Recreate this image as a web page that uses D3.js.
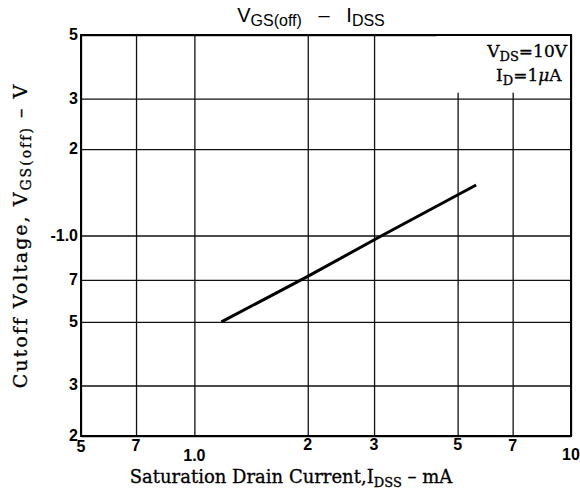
<!DOCTYPE html>
<html>
<head>
<meta charset="utf-8">
<script src="https://cdn.jsdelivr.net/npm/d3@7"></script>
<style>
  body { margin: 0; background: #fff; }
</style>
</head>
<body>
<script>
// data
var currentMA = [1.18, 2, 3.15, 5.6];
var cutoffV = [0.5, 0.72, 1.0, 1.5];

// tick values and labels
var xTicks = [0.5, 0.7, 1, 2, 3, 5, 7, 10];
var xTickLabels = ["5", "7", "1.0", "2", "3", "5", "7", "10"];
var yTicks = [0.2, 0.3, 0.5, 0.7, 1, 2, 3, 5];
var yTickLabels = ["2", "3", "5", "7", "-1.0", "2", "3", "5"];

// svg size and plot box (note: "top" is reserved on window, so use pad_ names)
var w_svg = 580, h_svg = 495;
var pad_l = 81, pad_r = 571, pad_t = 35, pad_b = 436;

var svg = d3.select("body").append("svg")
  .attr("width", w_svg).attr("height", h_svg);

var xScale = d3.scaleLog().domain([0.5, 10]).range([pad_l, pad_r]);
var yScale = d3.scaleLog().domain([0.2, 5]).range([pad_b, pad_t]);

// grid lines (axis with long ticks)
var xGrid = d3.axisBottom(xScale).tickValues(xTicks).tickFormat("")
  .tickSize(-(pad_b - pad_t)).tickSizeOuter(0);
var gx = svg.append("g").attr("transform", "translate(0," + pad_b + ")").call(xGrid);
gx.select(".domain").remove();
gx.selectAll("line").attr("stroke", "#111").attr("stroke-width", 1.3);

var yGrid = d3.axisLeft(yScale).tickValues(yTicks).tickFormat("")
  .tickSize(-(pad_r - pad_l)).tickSizeOuter(0);
var gy = svg.append("g").attr("transform", "translate(" + pad_l + ",0)").call(yGrid);
gy.select(".domain").remove();
gy.selectAll("line").attr("stroke", "#111").attr("stroke-width", 1.3);

// blank area behind the condition note
svg.append("rect")
  .attr("x", xScale(4.4)).attr("y", pad_t + 1)
  .attr("width", pad_r - xScale(4.4) - 1)
  .attr("height", yScale(3) - pad_t - 7)
  .attr("fill", "#fff");

// frame
svg.append("rect")
  .attr("x", pad_l).attr("y", pad_t)
  .attr("width", pad_r - pad_l).attr("height", pad_b - pad_t)
  .attr("fill", "none").attr("stroke", "#000").attr("stroke-width", 2);

// curve
var line = d3.line()
  .x(function(d) { return xScale(d[0]); })
  .y(function(d) { return yScale(d[1]); });
svg.append("path")
  .datum(d3.zip(currentMA, cutoffV))
  .attr("d", line)
  .attr("fill", "none").attr("stroke", "#000").attr("stroke-width", 3);

// tick labels
var tickFont = "'Liberation Sans', Arial, sans-serif";
var xLabelDy = [16, 15, 25, 14, 14, 14, 15, 24];   // the printed labels are staggered
svg.selectAll("text.xtick")
  .data(xTicks).enter().append("text")
  .attr("class", "xtick")
  .attr("x", function(d) { return xScale(d); })
  .attr("y", function(d, i) { return pad_b + xLabelDy[i]; })
  .attr("text-anchor", "middle")
  .style("font-family", tickFont).style("font-weight", "bold").style("font-size", "16px")
  .text(function(d, i) { return xTickLabels[i]; });

svg.selectAll("text.ytick")
  .data(yTicks).enter().append("text")
  .attr("class", "ytick")
  .attr("x", pad_l - 3)
  .attr("y", function(d) { return yScale(d) + 5; })
  .attr("text-anchor", "end")
  .style("font-family", tickFont).style("font-weight", "bold").style("font-size", "16px")
  .text(function(d, i) { return yTickLabels[i]; });

// title
var title = svg.append("text")
  .attr("x", 311).attr("y", 22).attr("text-anchor", "middle")
  .style("font-family", tickFont).style("font-size", "20px");
title.append("tspan").text("V");
title.append("tspan").attr("dy", 4).style("font-size", "16px").text("GS(off)");
title.append("tspan").attr("dy", -4).text("\u00a0\u00a0\u00a0\u2013\u00a0\u00a0\u00a0I");
title.append("tspan").attr("dy", 4).style("font-size", "16px").text("DSS");

// axis titles
var serif = "'DejaVu Serif', 'Liberation Serif', serif";
var xt = svg.append("text")
  .attr("x", 291).attr("y", 483).attr("text-anchor", "middle")
  .style("font-family", serif).style("font-size", "18px")
  .attr("stroke", "#000").attr("stroke-width", 0.3);
xt.append("tspan").text("Saturation Drain Current,I");
xt.append("tspan").attr("dy", 4).style("font-size", "13px").text("DSS");
xt.append("tspan").attr("dy", -4).text(" \u2013 mA");

var yt = svg.append("text")
  .attr("transform", "translate(27," + ((pad_t + pad_b) / 2) + ") rotate(-90)")
  .attr("text-anchor", "middle")
  .style("font-family", serif).style("font-size", "19px").style("letter-spacing", "2px")
  .attr("stroke", "#000").attr("stroke-width", 0.3);
yt.append("tspan").text("Cutoff Voltage, V");
yt.append("tspan").attr("dy", 4).style("font-size", "14px").text("GS(off)");
yt.append("tspan").attr("dy", -4).text(" \u2013 V");

// condition note
var n1 = svg.append("text").attr("x", pad_r - 4).attr("y", 57).attr("text-anchor", "end")
  .style("font-family", serif).style("font-size", "17px")
  .attr("stroke", "#000").attr("stroke-width", 0.3);
n1.append("tspan").text("V");
n1.append("tspan").attr("dy", 4).style("font-size", "13px").text("DS");
n1.append("tspan").attr("dy", -4).text("=10V");

var n2 = svg.append("text").attr("x", pad_r - 4).attr("y", 81).attr("text-anchor", "end")
  .style("font-family", serif).style("font-size", "17px")
  .attr("stroke", "#000").attr("stroke-width", 0.3);
n2.append("tspan").text("I");
n2.append("tspan").attr("dy", 4).style("font-size", "13px").text("D");
n2.append("tspan").attr("dy", -4).text("=1");
n2.append("tspan").style("font-style", "italic").text("\u03bc");
n2.append("tspan").text("A\u00a0");
</script>
</body>
</html>
